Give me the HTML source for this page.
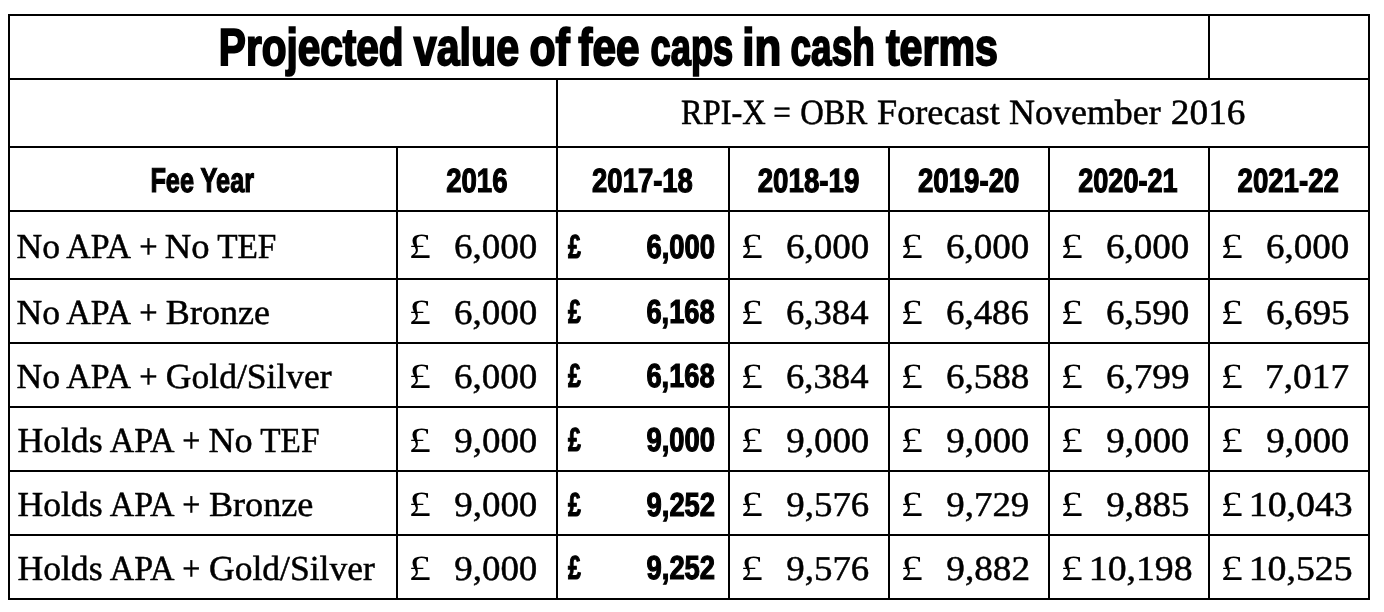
<!DOCTYPE html>
<html><head><meta charset="utf-8"><title>Projected value of fee caps in cash terms</title>
<style>
html,body{margin:0;padding:0;background:#fff;}
body{width:1384px;height:612px;overflow:hidden;}
svg{display:block;}
text{text-rendering:geometricPrecision;}
.s{font-family:'Liberation Serif', 'DejaVu Serif', serif;font-weight:400;stroke:#000;stroke-width:0.5px;}
.b{font-family:'Liberation Sans', 'DejaVu Sans', sans-serif;font-weight:700;stroke:#000;stroke-width:1.2px;}
.t{font-family:'Liberation Sans', 'DejaVu Sans', sans-serif;font-weight:700;stroke:#000;stroke-width:2px;}
.p{font-family:'Liberation Serif', 'DejaVu Serif', serif;font-weight:400;}
</style></head><body>
<svg width="1384" height="612" viewBox="0 0 1384 612">
<rect x="0" y="0" width="1384" height="612" fill="#fff"/>
<g fill="#000">
<rect x="8" y="14" width="1362" height="2"/>
<rect x="8" y="78" width="1362" height="2"/>
<rect x="8" y="146" width="1362" height="2"/>
<rect x="8" y="210" width="1362" height="2"/>
<rect x="8" y="278" width="1362" height="2"/>
<rect x="8" y="342" width="1362" height="2"/>
<rect x="8" y="406" width="1362" height="2"/>
<rect x="8" y="470" width="1362" height="2"/>
<rect x="8" y="534" width="1362" height="2"/>
<rect x="8" y="598" width="1362" height="2"/>
<rect x="8" y="14" width="2" height="586"/>
<rect x="1368" y="14" width="2" height="586"/>
<rect x="1208" y="14" width="2" height="64"/>
<rect x="556" y="78" width="2" height="68"/>
<rect x="396" y="146" width="2" height="452"/>
<rect x="556" y="146" width="2" height="452"/>
<rect x="728" y="146" width="2" height="452"/>
<rect x="888" y="146" width="2" height="452"/>
<rect x="1048" y="146" width="2" height="452"/>
<rect x="1208" y="146" width="2" height="452"/>
</g>
<g fill="#000">
<text class="t" x="218.83" y="65.00" font-size="52.00" textLength="184.82" lengthAdjust="spacingAndGlyphs">Projected</text>
<text class="t" x="413.85" y="65.00" font-size="52.00" textLength="105.17" lengthAdjust="spacingAndGlyphs">value</text>
<text class="t" x="529.39" y="65.00" font-size="52.00" textLength="40.30" lengthAdjust="spacingAndGlyphs">of</text>
<text class="t" x="578.37" y="65.00" font-size="52.00" textLength="61.05" lengthAdjust="spacingAndGlyphs">fee</text>
<text class="t" x="650.61" y="65.00" font-size="52.00" textLength="82.62" lengthAdjust="spacingAndGlyphs">caps</text>
<text class="t" x="742.34" y="65.00" font-size="52.00" textLength="38.99" lengthAdjust="spacingAndGlyphs">in</text>
<text class="t" x="790.56" y="65.00" font-size="52.00" textLength="84.19" lengthAdjust="spacingAndGlyphs">cash</text>
<text class="t" x="885.90" y="65.00" font-size="52.00" textLength="112.03" lengthAdjust="spacingAndGlyphs">terms</text>
<text class="s" x="681.05" y="124.00" font-size="35.40" textLength="84.71" lengthAdjust="spacingAndGlyphs">RPI-X</text>
<text class="s" x="773.36" y="124.00" font-size="35.40" textLength="17.52" lengthAdjust="spacingAndGlyphs">=</text>
<text class="s" x="800.30" y="124.00" font-size="35.40" textLength="67.00" lengthAdjust="spacingAndGlyphs">OBR</text>
<text class="s" x="877.06" y="124.00" font-size="35.40" textLength="122.66" lengthAdjust="spacingAndGlyphs">Forecast</text>
<text class="s" x="1009.14" y="124.00" font-size="35.40" textLength="151.53" lengthAdjust="spacingAndGlyphs">November</text>
<text class="s" x="1170.89" y="124.00" font-size="35.40" textLength="74.65" lengthAdjust="spacingAndGlyphs">2016</text>
<text class="b" x="150.40" y="192.00" font-size="34.50" textLength="103.77" lengthAdjust="spacingAndGlyphs">Fee Year</text>
<text class="b" x="446.14" y="192.00" font-size="33.50" textLength="61.38" lengthAdjust="spacingAndGlyphs">2016</text>
<text class="b" x="592.08" y="192.00" font-size="33.50" textLength="100.81" lengthAdjust="spacingAndGlyphs">2017-18</text>
<text class="b" x="757.69" y="192.00" font-size="33.50" textLength="101.63" lengthAdjust="spacingAndGlyphs">2018-19</text>
<text class="b" x="918.00" y="192.00" font-size="33.50" textLength="101.35" lengthAdjust="spacingAndGlyphs">2019-20</text>
<text class="b" x="1078.13" y="192.00" font-size="33.50" textLength="99.56" lengthAdjust="spacingAndGlyphs">2020-21</text>
<text class="b" x="1237.53" y="192.00" font-size="33.50" textLength="101.41" lengthAdjust="spacingAndGlyphs">2021-22</text>
<text class="s" x="16.42" y="258.00" font-size="35.10" textLength="43.53" lengthAdjust="spacingAndGlyphs">No</text>
<text class="s" x="66.35" y="258.00" font-size="35.10" textLength="64.68" lengthAdjust="spacingAndGlyphs">APA</text>
<text class="s" x="139.13" y="258.00" font-size="35.10" textLength="18.39" lengthAdjust="spacingAndGlyphs">+</text>
<text class="s" x="164.83" y="258.00" font-size="35.10" textLength="44.74" lengthAdjust="spacingAndGlyphs">No</text>
<text class="s" x="217.15" y="258.00" font-size="35.10" textLength="59.28" lengthAdjust="spacingAndGlyphs">TEF</text>
<text class="p" x="408.41" y="258.00" font-size="35.50" textLength="22.45" lengthAdjust="spacingAndGlyphs">£</text>
<text class="s" x="453.96" y="258.00" font-size="34.80" textLength="83.26" lengthAdjust="spacingAndGlyphs">6,000</text>
<text class="b" x="568.03" y="258.00" font-size="33.30" textLength="12.87" lengthAdjust="spacingAndGlyphs">£</text>
<text class="b" x="646.45" y="258.00" font-size="33.30" textLength="68.57" lengthAdjust="spacingAndGlyphs">6,000</text>
<text class="p" x="740.41" y="258.00" font-size="35.50" textLength="22.45" lengthAdjust="spacingAndGlyphs">£</text>
<text class="s" x="785.96" y="258.00" font-size="34.80" textLength="83.26" lengthAdjust="spacingAndGlyphs">6,000</text>
<text class="p" x="900.41" y="258.00" font-size="35.50" textLength="22.45" lengthAdjust="spacingAndGlyphs">£</text>
<text class="s" x="945.96" y="258.00" font-size="34.80" textLength="83.26" lengthAdjust="spacingAndGlyphs">6,000</text>
<text class="p" x="1060.41" y="258.00" font-size="35.50" textLength="22.45" lengthAdjust="spacingAndGlyphs">£</text>
<text class="s" x="1105.96" y="258.00" font-size="34.80" textLength="83.26" lengthAdjust="spacingAndGlyphs">6,000</text>
<text class="p" x="1220.41" y="258.00" font-size="35.50" textLength="22.45" lengthAdjust="spacingAndGlyphs">£</text>
<text class="s" x="1265.96" y="258.00" font-size="34.80" textLength="83.26" lengthAdjust="spacingAndGlyphs">6,000</text>
<text class="s" x="16.42" y="324.00" font-size="35.10" textLength="43.53" lengthAdjust="spacingAndGlyphs">No</text>
<text class="s" x="66.35" y="324.00" font-size="35.10" textLength="64.68" lengthAdjust="spacingAndGlyphs">APA</text>
<text class="s" x="139.13" y="324.00" font-size="35.10" textLength="18.39" lengthAdjust="spacingAndGlyphs">+</text>
<text class="s" x="165.89" y="324.00" font-size="35.10" textLength="104.28" lengthAdjust="spacingAndGlyphs">Bronze</text>
<text class="p" x="408.41" y="324.00" font-size="35.50" textLength="22.45" lengthAdjust="spacingAndGlyphs">£</text>
<text class="s" x="453.96" y="324.00" font-size="34.80" textLength="83.26" lengthAdjust="spacingAndGlyphs">6,000</text>
<text class="b" x="568.03" y="323.00" font-size="33.30" textLength="12.87" lengthAdjust="spacingAndGlyphs">£</text>
<text class="b" x="646.45" y="323.00" font-size="33.30" textLength="68.27" lengthAdjust="spacingAndGlyphs">6,168</text>
<text class="p" x="740.41" y="324.00" font-size="35.50" textLength="22.45" lengthAdjust="spacingAndGlyphs">£</text>
<text class="s" x="785.97" y="324.00" font-size="34.80" textLength="82.55" lengthAdjust="spacingAndGlyphs">6,384</text>
<text class="p" x="900.41" y="324.00" font-size="35.50" textLength="22.45" lengthAdjust="spacingAndGlyphs">£</text>
<text class="s" x="945.96" y="324.00" font-size="34.80" textLength="83.08" lengthAdjust="spacingAndGlyphs">6,486</text>
<text class="p" x="1060.41" y="324.00" font-size="35.50" textLength="22.45" lengthAdjust="spacingAndGlyphs">£</text>
<text class="s" x="1105.96" y="324.00" font-size="34.80" textLength="83.26" lengthAdjust="spacingAndGlyphs">6,590</text>
<text class="p" x="1220.41" y="324.00" font-size="35.50" textLength="22.45" lengthAdjust="spacingAndGlyphs">£</text>
<text class="s" x="1265.95" y="324.00" font-size="34.80" textLength="83.72" lengthAdjust="spacingAndGlyphs">6,695</text>
<text class="s" x="16.42" y="388.00" font-size="35.10" textLength="43.53" lengthAdjust="spacingAndGlyphs">No</text>
<text class="s" x="66.35" y="388.00" font-size="35.10" textLength="64.68" lengthAdjust="spacingAndGlyphs">APA</text>
<text class="s" x="139.13" y="388.00" font-size="35.10" textLength="18.39" lengthAdjust="spacingAndGlyphs">+</text>
<text class="s" x="165.88" y="388.00" font-size="35.10" textLength="165.84" lengthAdjust="spacingAndGlyphs">Gold/Silver</text>
<text class="p" x="408.41" y="388.00" font-size="35.50" textLength="22.45" lengthAdjust="spacingAndGlyphs">£</text>
<text class="s" x="453.96" y="388.00" font-size="34.80" textLength="83.26" lengthAdjust="spacingAndGlyphs">6,000</text>
<text class="b" x="568.03" y="387.00" font-size="33.30" textLength="12.87" lengthAdjust="spacingAndGlyphs">£</text>
<text class="b" x="646.45" y="387.00" font-size="33.30" textLength="68.27" lengthAdjust="spacingAndGlyphs">6,168</text>
<text class="p" x="740.41" y="388.00" font-size="35.50" textLength="22.45" lengthAdjust="spacingAndGlyphs">£</text>
<text class="s" x="785.97" y="388.00" font-size="34.80" textLength="82.55" lengthAdjust="spacingAndGlyphs">6,384</text>
<text class="p" x="900.41" y="388.00" font-size="35.50" textLength="22.45" lengthAdjust="spacingAndGlyphs">£</text>
<text class="s" x="945.95" y="388.00" font-size="34.80" textLength="83.43" lengthAdjust="spacingAndGlyphs">6,588</text>
<text class="p" x="1060.41" y="388.00" font-size="35.50" textLength="22.45" lengthAdjust="spacingAndGlyphs">£</text>
<text class="s" x="1105.96" y="388.00" font-size="34.80" textLength="83.52" lengthAdjust="spacingAndGlyphs">6,799</text>
<text class="p" x="1220.41" y="388.00" font-size="35.50" textLength="22.45" lengthAdjust="spacingAndGlyphs">£</text>
<text class="s" x="1265.14" y="388.00" font-size="34.80" textLength="83.98" lengthAdjust="spacingAndGlyphs">7,017</text>
<text class="s" x="17.41" y="452.00" font-size="35.10" textLength="85.14" lengthAdjust="spacingAndGlyphs">Holds</text>
<text class="s" x="109.70" y="452.00" font-size="35.10" textLength="64.66" lengthAdjust="spacingAndGlyphs">APA</text>
<text class="s" x="182.35" y="452.00" font-size="35.10" textLength="18.10" lengthAdjust="spacingAndGlyphs">+</text>
<text class="s" x="208.43" y="452.00" font-size="35.10" textLength="44.29" lengthAdjust="spacingAndGlyphs">No</text>
<text class="s" x="260.31" y="452.00" font-size="35.10" textLength="59.13" lengthAdjust="spacingAndGlyphs">TEF</text>
<text class="p" x="408.41" y="452.00" font-size="35.50" textLength="22.45" lengthAdjust="spacingAndGlyphs">£</text>
<text class="s" x="454.31" y="452.00" font-size="34.80" textLength="83.03" lengthAdjust="spacingAndGlyphs">9,000</text>
<text class="b" x="568.03" y="451.00" font-size="33.30" textLength="12.87" lengthAdjust="spacingAndGlyphs">£</text>
<text class="b" x="646.54" y="451.00" font-size="33.30" textLength="68.53" lengthAdjust="spacingAndGlyphs">9,000</text>
<text class="p" x="740.41" y="452.00" font-size="35.50" textLength="22.45" lengthAdjust="spacingAndGlyphs">£</text>
<text class="s" x="786.31" y="452.00" font-size="34.80" textLength="83.03" lengthAdjust="spacingAndGlyphs">9,000</text>
<text class="p" x="900.41" y="452.00" font-size="35.50" textLength="22.45" lengthAdjust="spacingAndGlyphs">£</text>
<text class="s" x="946.31" y="452.00" font-size="34.80" textLength="83.03" lengthAdjust="spacingAndGlyphs">9,000</text>
<text class="p" x="1060.41" y="452.00" font-size="35.50" textLength="22.45" lengthAdjust="spacingAndGlyphs">£</text>
<text class="s" x="1106.31" y="452.00" font-size="34.80" textLength="83.03" lengthAdjust="spacingAndGlyphs">9,000</text>
<text class="p" x="1220.41" y="452.00" font-size="35.50" textLength="22.45" lengthAdjust="spacingAndGlyphs">£</text>
<text class="s" x="1266.31" y="452.00" font-size="34.80" textLength="83.03" lengthAdjust="spacingAndGlyphs">9,000</text>
<text class="s" x="17.41" y="516.00" font-size="35.10" textLength="85.14" lengthAdjust="spacingAndGlyphs">Holds</text>
<text class="s" x="109.70" y="516.00" font-size="35.10" textLength="64.66" lengthAdjust="spacingAndGlyphs">APA</text>
<text class="s" x="182.35" y="516.00" font-size="35.10" textLength="18.10" lengthAdjust="spacingAndGlyphs">+</text>
<text class="s" x="208.90" y="516.00" font-size="35.10" textLength="104.46" lengthAdjust="spacingAndGlyphs">Bronze</text>
<text class="p" x="408.41" y="516.00" font-size="35.50" textLength="22.45" lengthAdjust="spacingAndGlyphs">£</text>
<text class="s" x="454.31" y="516.00" font-size="34.80" textLength="83.03" lengthAdjust="spacingAndGlyphs">9,000</text>
<text class="b" x="568.03" y="516.00" font-size="33.30" textLength="12.87" lengthAdjust="spacingAndGlyphs">£</text>
<text class="b" x="646.53" y="516.00" font-size="33.30" textLength="68.59" lengthAdjust="spacingAndGlyphs">9,252</text>
<text class="p" x="740.41" y="516.00" font-size="35.50" textLength="22.45" lengthAdjust="spacingAndGlyphs">£</text>
<text class="s" x="786.35" y="516.00" font-size="34.80" textLength="82.94" lengthAdjust="spacingAndGlyphs">9,576</text>
<text class="p" x="900.41" y="516.00" font-size="35.50" textLength="22.45" lengthAdjust="spacingAndGlyphs">£</text>
<text class="s" x="946.32" y="516.00" font-size="34.80" textLength="82.94" lengthAdjust="spacingAndGlyphs">9,729</text>
<text class="p" x="1060.41" y="516.00" font-size="35.50" textLength="22.45" lengthAdjust="spacingAndGlyphs">£</text>
<text class="s" x="1106.33" y="516.00" font-size="34.80" textLength="83.13" lengthAdjust="spacingAndGlyphs">9,885</text>
<text class="p" x="1220.41" y="516.00" font-size="35.50" textLength="22.45" lengthAdjust="spacingAndGlyphs">£</text>
<text class="s" x="1248.75" y="516.00" font-size="34.80" textLength="104.03" lengthAdjust="spacingAndGlyphs">10,043</text>
<text class="s" x="17.41" y="580.00" font-size="35.10" textLength="85.14" lengthAdjust="spacingAndGlyphs">Holds</text>
<text class="s" x="109.70" y="580.00" font-size="35.10" textLength="64.66" lengthAdjust="spacingAndGlyphs">APA</text>
<text class="s" x="182.35" y="580.00" font-size="35.10" textLength="18.10" lengthAdjust="spacingAndGlyphs">+</text>
<text class="s" x="209.02" y="580.00" font-size="35.10" textLength="165.72" lengthAdjust="spacingAndGlyphs">Gold/Silver</text>
<text class="p" x="408.41" y="580.00" font-size="35.50" textLength="22.45" lengthAdjust="spacingAndGlyphs">£</text>
<text class="s" x="454.31" y="580.00" font-size="34.80" textLength="83.03" lengthAdjust="spacingAndGlyphs">9,000</text>
<text class="b" x="568.03" y="579.00" font-size="33.30" textLength="12.87" lengthAdjust="spacingAndGlyphs">£</text>
<text class="b" x="646.53" y="579.00" font-size="33.30" textLength="68.59" lengthAdjust="spacingAndGlyphs">9,252</text>
<text class="p" x="740.41" y="580.00" font-size="35.50" textLength="22.45" lengthAdjust="spacingAndGlyphs">£</text>
<text class="s" x="786.35" y="580.00" font-size="34.80" textLength="82.94" lengthAdjust="spacingAndGlyphs">9,576</text>
<text class="p" x="900.41" y="580.00" font-size="35.50" textLength="22.45" lengthAdjust="spacingAndGlyphs">£</text>
<text class="s" x="946.32" y="580.00" font-size="34.80" textLength="83.75" lengthAdjust="spacingAndGlyphs">9,882</text>
<text class="p" x="1060.41" y="580.00" font-size="35.50" textLength="22.45" lengthAdjust="spacingAndGlyphs">£</text>
<text class="s" x="1088.82" y="580.00" font-size="34.80" textLength="103.73" lengthAdjust="spacingAndGlyphs">10,198</text>
<text class="p" x="1220.41" y="580.00" font-size="35.50" textLength="22.45" lengthAdjust="spacingAndGlyphs">£</text>
<text class="s" x="1248.69" y="580.00" font-size="34.80" textLength="104.00" lengthAdjust="spacingAndGlyphs">10,525</text>
</g>
</svg>
</body></html>
